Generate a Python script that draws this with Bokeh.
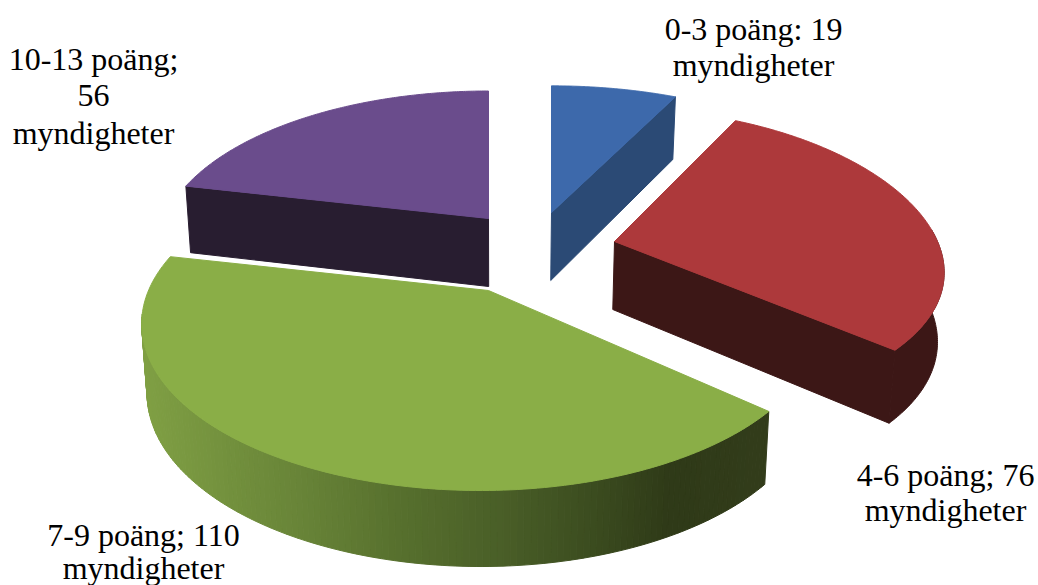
import numpy as np
from bokeh.plotting import figure
from bokeh.models import Range1d
from bokeh.core.properties import value
from bokeh.embed import file_html
from bokeh.resources import INLINE

# data
categories = ["0-3 poäng", "4-6 poäng", "7-9 poäng", "10-13 poäng"]
counts = [19, 76, 110, 56]
label_lines = [
    ["0-3 poäng: 19", "myndigheter"],
    ["4-6 poäng; 76", "myndigheter"],
    ["7-9 poäng; 110", "myndigheter"],
    ["10-13 poäng;", "56", "myndigheter"],
]
top_colors = ["#3d69ab", "#ad393b", "#8aae47", "#6a4c8c"]
side_colors = ["#2b4a75", "#3c1716", None, "#281d30"]

# layout of the exploded 3D pie (page pixels)
apex = [(551, 212), (614, 241), (488, 290), (488, 218)]
arc_shift = [0, 0, -8, 0]
radius_x = [331, 323, 332, 324]
radius_y = [152, 151, 160, 153]
persp_y = [0.2, 0.135, 0.2, 0.2]
PERSP = 0.2
DEPTH = 68
CENTER_X = 500
label_pos = [(753, 28, 36), (945, 474, 35), (143, 534, 33), (93, 58, 37)]
grad_x = [140, 300, 400, 500, 600, 670, 770]
grad_rgb = [(0x80, 0xa0, 0x44), (0x68, 0x84, 0x38), (0x57, 0x70, 0x2e),
            (0x4a, 0x5f, 0x28), (0x3b, 0x4b, 0x1f), (0x2f, 0x3a, 0x18), (0x33, 0x3d, 0x1b)]

fractions = np.array(counts) / sum(counts)
stops = np.concatenate([[0], np.cumsum(fractions)]) * 2 * np.pi


def scale(t, persp=PERSP):
    return 1 / (1 + persp * np.cos(t))


def rim(i, t):
    x = apex[i][0] + arc_shift[i] + radius_x[i] * np.sin(t) * scale(t)
    y = apex[i][1] - radius_y[i] * np.cos(t) * scale(t, persp_y[i])
    return x, y


def lower(x, y, s=1.0):
    return x + (CENTER_X - x) * 0.015, y + DEPTH * np.sqrt(s)


p = figure(width=1038, height=585, x_range=Range1d(0, 1038), y_range=Range1d(585, 0),
           output_backend="svg", toolbar_location=None, min_border=0)
p.axis.visible = False
p.grid.visible = False
p.outline_line_color = None
p.background_fill_color = "white"

# draw back to front: purple, blue, red, green
for i in [3, 0, 1, 2]:
    t0, t1 = stops[i], stops[i + 1]
    ts = np.linspace(t0, t1, 160)
    ax, ay = apex[i]
    rx, ry = rim(i, ts)
    sc = scale(ts)
    bx, by = lower(rx, ry, sc)

    if i == 2:
        # outer wall of the front slice, shaded by horizontal position
        vis = (ts >= t0) & (ts <= np.radians(262))
        idx = np.where(vis)[0]
        xs, ys, cols = [], [], []
        for a, b in zip(idx[:-1], idx[1:]):
            xs.append([rx[a], rx[b], bx[b], bx[a]])
            ys.append([ry[a], ry[b], by[b], by[a]])
            mx = (rx[a] + rx[b]) / 2
            rgb = [int(np.interp(mx, grad_x, [c[k] for c in grad_rgb])) for k in range(3)]
            cols.append("#%02x%02x%02x" % tuple(rgb))
        p.patches(xs, ys, fill_color=cols, line_color=cols, line_width=1)
    else:
        if i == 1:
            # outer wall, visible at the right
            vis = ts >= np.radians(85)
            p.patch(np.r_[rx[vis], bx[vis][::-1]], np.r_[ry[vis], by[vis][::-1]],
                    fill_color=side_colors[i], line_color=side_colors[i])
        # cut face
        e = 0 if i == 3 else -1
        ex, ey = rx[e], ry[e]
        ebx, eby = bx[e], by[e]
        abx, aby = lower(ax, ay)
        p.patch([ax, ex, ebx, abx], [ay, ey, eby, aby],
                fill_color=side_colors[i], line_color=side_colors[i])

    p.patch(np.r_[ax, rx], np.r_[ay, ry], fill_color=top_colors[i], line_color=top_colors[i])

# labels
tx, ty, tt = [], [], []
for lines, (cx, base, gap) in zip(label_lines, label_pos):
    for n, line in enumerate(lines):
        tx.append(cx)
        ty.append(base + n * gap)
        tt.append(line)
p.text(tx, ty, text=tt, text_font=value("Liberation Serif"), text_font_size="32px",
       text_color="#000000", text_align="center", text_baseline="alphabetic")

open("out.html", "w").write(file_html(p, INLINE))
